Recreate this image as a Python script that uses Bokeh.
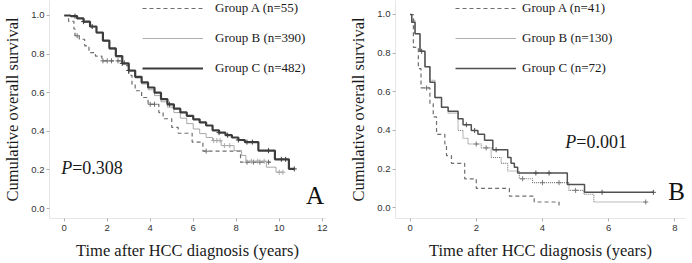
from bokeh.plotting import figure
from bokeh.layouts import row
from bokeh.models import Range1d, Legend, LegendItem, Label, FixedTicker, NumeralTickFormatter
from bokeh.embed import file_html
from bokeh.resources import INLINE

# ---------------- Panel A data ----------------
A_labels = ["Group A (n=55)", "Group B (n=390)", "Group C (n=482)"]
A_grpA_t = [0, 0.2, 0.45, 0.5, 0.7, 0.95, 1.15, 1.45, 1.75, 2.8, 3.0, 3.15, 3.3, 3.6, 3.9, 4.4, 4.6, 5.0, 5.3, 5.95, 6.45, 8.2]
A_grpA_s = [1.0, 0.97, 0.93, 0.895, 0.877, 0.843, 0.808, 0.79, 0.765, 0.74, 0.69, 0.644, 0.61, 0.575, 0.54, 0.497, 0.465, 0.42, 0.39, 0.344, 0.297, 0.24]
A_grpA_end = 9.6
A_grpA_cens = [0.6, 1.8, 2.0, 2.2, 2.5, 4.0, 4.2, 6.6, 8.5, 8.8, 9.1, 9.5]

A_grpB_t = [0, 0.3, 0.6, 0.9, 1.2, 1.5, 1.8, 2.1, 2.4, 2.7, 3.0, 3.3, 3.6, 3.9, 4.2, 4.5, 4.8, 5.1, 5.4, 5.7, 6.0, 6.3, 6.6, 6.9, 7.3, 7.9, 8.25, 8.45, 9.4, 9.85]
A_grpB_s = [1.0, 0.997, 0.985, 0.965, 0.94, 0.908, 0.866, 0.826, 0.786, 0.748, 0.71, 0.676, 0.645, 0.615, 0.585, 0.553, 0.525, 0.497, 0.468, 0.44, 0.412, 0.388, 0.368, 0.352, 0.326, 0.30, 0.275, 0.245, 0.214, 0.188]
A_grpB_end = 10.17
A_grpB_cens = [6.95, 7.1, 7.25, 7.45, 7.7, 8.7, 9.0, 9.3, 10.0, 10.17]

A_grpC_t = [0, 0.3, 0.6, 0.9, 1.2, 1.5, 1.8, 2.1, 2.4, 2.7, 3.0, 3.3, 3.6, 3.9, 4.2, 4.5, 4.8, 5.1, 5.4, 5.7, 6.0, 6.3, 6.6, 6.9, 7.2, 7.5, 7.8, 8.1, 8.4, 9.03, 9.8, 10.45]
A_grpC_s = [1.0, 0.997, 0.985, 0.968, 0.943, 0.912, 0.87, 0.83, 0.79, 0.752, 0.715, 0.682, 0.653, 0.627, 0.6, 0.567, 0.54, 0.517, 0.498, 0.48, 0.462, 0.446, 0.43, 0.405, 0.393, 0.38, 0.368, 0.355, 0.344, 0.30, 0.255, 0.205]
A_grpC_end = 10.7
A_grpC_cens = [0.5, 0.9, 1.3, 2.7, 3.0, 4.9, 7.2, 7.6, 8.1, 8.5, 8.75, 9.5, 10.1, 10.3, 10.7]

A_xticks = [0, 2, 4, 6, 8, 10, 12]
A_pvalue = "=0.308"
A_letter = "A"

# ---------------- Panel B data ----------------
B_labels = ["Group A (n=41)", "Group B (n=130)", "Group C (n=72)"]
B_grpA_t = [0, 0.1, 0.25, 0.33, 0.6, 0.7, 0.8, 1.05, 1.1, 1.25, 1.65, 2.0, 3.0, 3.75, 4.5]
B_grpA_s = [1.0, 0.83, 0.72, 0.62, 0.54, 0.47, 0.38, 0.33, 0.27, 0.23, 0.15, 0.10, 0.06, 0.03, 0.0]
B_grpA_end = 4.5
B_grpA_cens = [0.5]

B_grpB_t = [0, 0.05, 0.15, 0.3, 0.45, 0.6, 0.75, 0.95, 1.15, 1.45, 1.6, 1.75, 2.15, 2.45, 2.75, 2.95, 3.3, 3.7, 4.8, 5.25, 5.55]
B_grpB_s = [1.0, 0.97, 0.90, 0.81, 0.73, 0.66, 0.57, 0.52, 0.49, 0.40, 0.36, 0.33, 0.31, 0.26, 0.23, 0.19, 0.15, 0.13, 0.09, 0.07, 0.03]
B_grpB_end = 7.12
B_grpB_cens = [2.0, 2.3, 3.4, 4.0, 4.5, 5.0, 7.12]

B_grpC_t = [0, 0.05, 0.15, 0.3, 0.45, 0.6, 0.75, 0.95, 1.15, 1.45, 1.6, 1.85, 2.05, 2.25, 2.5, 2.95, 3.05, 3.15, 3.25, 4.75, 5.27]
B_grpC_s = [1.0, 0.96, 0.90, 0.81, 0.73, 0.65, 0.57, 0.52, 0.50, 0.46, 0.43, 0.40, 0.38, 0.35, 0.30, 0.26, 0.23, 0.21, 0.18, 0.12, 0.08]
B_grpC_end = 7.35
B_grpC_cens = [0.35, 1.7, 1.95, 2.6, 3.8, 4.2, 5.8, 7.35]

B_xticks = [0, 2, 4, 6, 8]
B_pvalue = "=0.001"
B_letter = "B"

y_ticks = [0.0, 0.2, 0.4, 0.6, 0.8, 1.0]

SERIF = "Liberation Serif"
SANS = "Liberation Sans"
NAN = float("nan")


def step_path(t, s, end):
    xs, ys = list(t), list(s)
    if end > xs[-1]:
        xs.append(end)
        ys.append(ys[-1])
    return xs, ys


def surv_at(t, s, c):
    val = s[0]
    for ti, si in zip(t, s):
        if ti <= c:
            val = si
    return val


def make_fig(xr, yr, xticks, left, right):
    p = figure(width=346, height=263, x_range=Range1d(*xr), y_range=Range1d(*yr),
               output_backend="svg", toolbar_location=None,
               min_border_left=left, min_border_right=right,
               min_border_top=0, min_border_bottom=45)
    p.outline_line_color = None
    p.grid.visible = False
    p.background_fill_color = "white"
    p.border_fill_color = "white"
    for ax in (p.xaxis[0], p.yaxis[0]):
        ax.axis_line_color = "#e6e6e6"
        ax.major_tick_line_color = "#b0b0b0"
        ax.major_tick_out = 3
        ax.major_tick_in = 0
        ax.minor_tick_line_color = None
        ax.major_label_text_font = SANS
        ax.major_label_text_font_size = "9.5px"
        ax.major_label_text_color = "#333333"
        ax.axis_label_text_font = SERIF
        ax.axis_label_text_font_size = "16.5px"
        ax.axis_label_text_font_style = "normal"
        ax.axis_label_text_color = "#1a1a1a"
    p.xaxis[0].ticker = FixedTicker(ticks=xticks)
    p.yaxis[0].ticker = FixedTicker(ticks=y_ticks)
    p.yaxis[0].formatter = NumeralTickFormatter(format="0.0")
    p.xaxis[0].major_label_standoff = 3
    p.yaxis[0].major_label_standoff = 2
    p.xaxis[0].axis_label_standoff = 7
    p.yaxis[0].axis_label_standoff = 6
    p.xaxis[0].axis_label = "Time after HCC diagnosis (years)"
    p.yaxis[0].axis_label = "Cumulative overall survival"
    return p


def draw_group(p, t, s, end, cens, color, width, dash):
    xs, ys = step_path(t, s, end)
    r = p.step(xs, ys, mode="after", line_color=color, line_width=width, line_dash=dash)
    cy = [surv_at(t, s, c) for c in cens]
    p.scatter(cens, cy, marker="cross", size=5, line_color=color, line_width=1)
    return r


def add_legend(p, labels, styles, x, y, standoff):
    items = []
    for lab, (color, width, dash) in zip(labels, styles):
        r = p.line([NAN], [NAN], line_color=color, line_width=width, line_dash=dash)
        items.append(LegendItem(label=lab, renderers=[r]))
    lg = Legend(items=items, location=(x, y), padding=0, margin=0, spacing=0,
                label_height=30, glyph_height=30, glyph_width=61, label_standoff=standoff,
                label_text_font=SERIF, label_text_font_size="13px", label_text_color="#1a1a1a",
                border_line_color=None, background_fill_alpha=0)
    p.add_layout(lg)


def add_texts(p, px, py, pval, letter, lx, ly):
    p.add_layout(Label(x=px, y=py, text="P", text_font=SERIF, text_font_size="18px",
                       text_font_style="italic", text_color="#1a1a1a"))
    p.add_layout(Label(x=px, y=py, x_offset=11, text=pval, text_font=SERIF, text_font_size="18px",
                       text_color="#1a1a1a"))
    p.add_layout(Label(x=lx, y=ly, text=letter, text_font=SERIF,
                       text_font_size="25px", text_color="#111111"))


# ---------------- Panel A ----------------
pA = make_fig((-0.685, 12.152), (-0.0518, 1.0777), A_xticks, 44, 21)
draw_group(pA, A_grpA_t, A_grpA_s, A_grpA_end, A_grpA_cens, "#6e6e6e", 1.2, "4 3")
draw_group(pA, A_grpB_t, A_grpB_s, A_grpB_end, A_grpB_cens, "#a8a8a8", 1.0, "solid")
draw_group(pA, A_grpC_t, A_grpC_s, A_grpC_end, A_grpC_cens, "#3c3c3c", 2.2, "solid")
add_legend(pA, A_labels, [("#6e6e6e", 1.2, "4 3"), ("#b0b0b0", 1.0, "solid"), ("#3c3c3c", 2.0, "solid")],
           93, 135, 12)
add_texts(pA, -0.14, 0.16, A_pvalue, A_letter, 11.24, 0.0)

# ---------------- Panel B ----------------
pB = make_fig((-0.44, 8.32), (-0.0554, 1.0724), B_xticks, 47, 7)
draw_group(pB, B_grpA_t, B_grpA_s, B_grpA_end, B_grpA_cens, "#6e6e6e", 1.2, "4 3")
draw_group(pB, B_grpB_t, B_grpB_s, B_grpB_end, B_grpB_cens, "#7a7a7a", 1.1, "1 1")
draw_group(pB, B_grpC_t, B_grpC_s, B_grpC_end, B_grpC_cens, "#505050", 1.5, "solid")
add_legend(pB, B_labels, [("#6e6e6e", 1.2, "4 3"), ("#b0b0b0", 1.0, "solid"), ("#505050", 1.5, "solid")],
           60, 135, 6)
add_texts(pB, 4.69, 0.29, B_pvalue, B_letter, 7.8, 0.012)

layout = row(pA, pB)
open("out.html", "w").write(file_html(layout, INLINE))
